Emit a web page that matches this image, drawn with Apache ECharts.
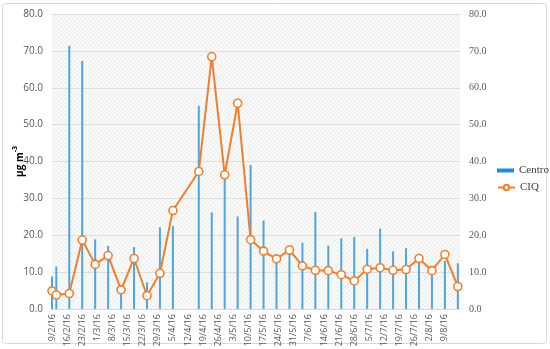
<!DOCTYPE html>
<html>
<head>
<meta charset="utf-8">
<script src="https://cdn.jsdelivr.net/npm/echarts@6/dist/echarts.min.js"></script>
<style>
html,body{margin:0;padding:0;background:#fff;}
#c{width:550px;height:349px;}
</style>
</head>
<body>
<div id="c"></div>
<script>
// Sample dates (d/m/yyyy)
var dates = ['9/2/2016','11/2/2016','17/2/2016','23/2/2016','29/2/2016','6/3/2016','12/3/2016','18/3/2016','24/3/2016','30/3/2016','5/4/2016','17/4/2016','23/4/2016','29/4/2016','5/5/2016','11/5/2016','17/5/2016','23/5/2016','29/5/2016','4/6/2016','10/6/2016','16/6/2016','22/6/2016','28/6/2016','4/7/2016','10/7/2016','16/7/2016','22/7/2016','28/7/2016','3/8/2016','9/8/2016','15/8/2016'];
var centro = [8.8,11.5,71.4,67.3,18.9,17.1,4.0,16.8,7.2,22.2,22.5,55.1,26.2,35.5,25.1,39.1,24.0,13.0,15.5,18.0,26.3,17.2,19.2,19.6,16.3,21.8,15.6,16.5,13.0,10.0,13.1,12.4];
var ciq = [4.9,3.8,4.2,18.7,12.1,14.5,5.2,13.7,3.6,9.7,26.7,37.3,68.4,36.4,55.8,18.8,15.7,13.6,16.0,11.7,10.5,10.4,9.3,7.6,10.8,11.2,10.5,10.7,13.7,10.4,14.8,6.1];
var axisStart = '9/2/2016';   // first weekly tick label
var axisEnd = '16/8/2016';    // end of the date axis
var yTicks = [0,10,20,30,40,50,60,70,80];

function parseDate(s){ var p = s.split('/'); return Date.UTC(+p[2], +p[1]-1, +p[0]); }
var DAY = 86400000;
var t0 = parseDate(axisStart);
function dayOff(s){ return Math.round((parseDate(s) - t0)/DAY); }
function fmtDay(v){
  var d = new Date(t0 + v*DAY);
  return d.getUTCDate() + '/' + (d.getUTCMonth()+1) + '/' + String(d.getUTCFullYear()).slice(2);
}

var centroData = dates.map(function(d,i){ return [dayOff(d), centro[i]]; });
var ciqData = dates.map(function(d,i){ return [dayOff(d), ciq[i]]; });

// hatched plot background
var pc = document.createElement('canvas');
pc.width = 4; pc.height = 4;
var g = pc.getContext('2d');
g.fillStyle = '#f9f9f9'; g.fillRect(0,0,4,4);
g.fillStyle = '#ececec';
for (var k=0;k<4;k++){ g.fillRect(k, 3-k, 1, 1); }

var chart = echarts.init(document.getElementById('c'), null, {renderer:'canvas'});
var sans = 'Open Sans, Liberation Sans, sans-serif';
var serif = 'Liberation Serif, DejaVu Serif, serif';
var yMin = yTicks[0], yMax = yTicks[yTicks.length-1], yInt = yTicks[1]-yTicks[0];

chart.setOption({
  animation: false,
  backgroundColor: '#fff',
  graphic: [{
    type: 'rect', shape: {x: 2.5, y: 3.5, width: 544, height: 340, r: 3},
    style: {fill: 'none', stroke: '#d9d9d9', lineWidth: 1}, z: -10
  }],
  grid: {
    left: 52, right: 90, top: 14, bottom: 40,
    outerBoundsMode: 'none', containLabel: false,
    show: true, borderWidth: 0,
    backgroundColor: {image: pc, repeat: 'repeat'}
  },
  legend: [{
    orient: 'vertical', left: 492, top: 160,
    itemWidth: 17, itemHeight: 4, itemGap: 6,
    data: [{name: 'Centro', icon: 'rect', itemStyle: {color: '#1f8dd6'}}],
    textStyle: {fontFamily: serif, fontSize: 11, color: '#404040'}
  },{
    orient: 'vertical', left: 492, top: 177,
    itemWidth: 17, itemHeight: 7,
    data: ['CIQ'],
    textStyle: {fontFamily: serif, fontSize: 11, color: '#404040'}
  }],
  xAxis: {
    type: 'value', min: 0, max: dayOff(axisEnd), interval: 7,
    splitLine: {show: false},
    axisLine: {show: true, onZero: false, lineStyle: {color: '#d9d9d9', width: 1}},
    axisTick: {show: false},
    axisLabel: {
      rotate: 90, margin: 5, fontSize: 9, fontFamily: sans, color: '#595959',
      showMaxLabel: false,
      formatter: function(v){ return (v % 7 === 0 && v < dayOff(axisEnd)) ? fmtDay(v) : ''; }
    }
  },
  yAxis: [{
    type: 'value', min: yMin, max: yMax, interval: yInt,
    name: '{a|μg m}{s|-3}', nameLocation: 'middle', nameRotate: 90, nameGap: 27,
    nameMoveOverlap: false,
    nameTextStyle: {
      rich: {
        a: {fontFamily: sans, fontSize: 10, fontWeight: 'bold', color: '#000', lineHeight: 14, verticalAlign: 'bottom'},
        s: {fontFamily: sans, fontSize: 7, fontWeight: 'bold', color: '#000', lineHeight: 14, verticalAlign: 'top'}
      }
    },
    axisLine: {show: false}, axisTick: {show: false},
    splitLine: {show: true, lineStyle: {color: '#dedede', width: 1}},
    axisLabel: {margin: 9, fontSize: 10, fontFamily: sans, color: '#595959', formatter: function(v){ return v.toFixed(1); }}
  },{
    type: 'value', min: yMin, max: yMax, interval: yInt, position: 'right',
    axisLine: {show: false}, axisTick: {show: false}, splitLine: {show: false},
    axisLabel: {margin: 9, fontSize: 10, fontFamily: serif, color: '#595959', formatter: function(v){ return v.toFixed(1); }}
  }],
  series: [{
    name: 'Centro', type: 'bar', data: centroData, barWidth: 2,
    itemStyle: {color: '#4ea6de'}, z: 2
  },{
    name: 'CIQ', type: 'line', data: ciqData,
    symbol: 'circle', symbolSize: 8, showAllSymbol: true,
    lineStyle: {color: '#f07f2c', width: 2},
    itemStyle: {color: '#fff', borderColor: '#f07f2c', borderWidth: 1.6},
    z: 3
  }]
});
</script>
</body>
</html>
